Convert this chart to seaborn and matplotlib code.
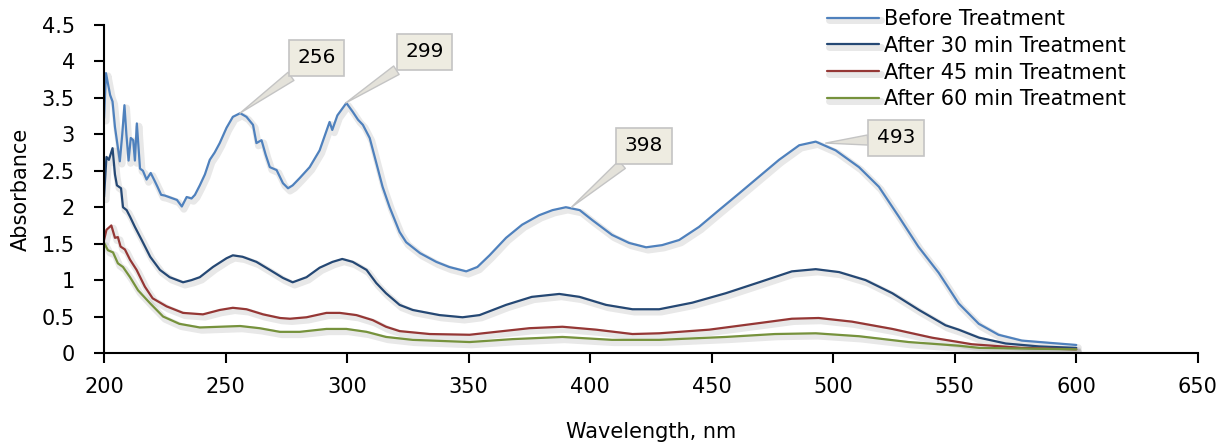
import numpy as np
import pandas as pd
import seaborn as sns
import matplotlib.pyplot as plt
import matplotlib.patheffects as pe
from matplotlib.ticker import FuncFormatter

# spectra (wavelength nm, absorbance)
wl_before = [200, 200.8, 202.5, 203.5, 204.5, 206.5, 207.5, 208.4, 209.2, 210.1, 211, 212, 212.7,
             213.5, 214.8, 216, 217.5, 219.2, 221, 222, 223.5, 225, 227.5, 230, 232, 234, 236,
             237.4, 239.4, 241.5, 243.5, 245.5, 247.6, 250.4, 253, 256, 258.6, 261.3, 262.7,
             264.8, 266.5, 268.2, 271, 273.6, 275.7, 277.6, 280.5, 284.6, 288.7, 292.8, 293.9,
             296, 299.7, 302.3, 304.5, 306.5, 309.3, 312, 314.6, 317.5, 321.6, 324.3, 330,
             336.7, 342, 349, 353.6, 358.6, 365.4, 372, 379, 384.5, 390, 395.7, 401, 409, 416,
             423, 429.6, 436.6, 444.8, 453, 461.3, 469.5, 477.7, 486, 492.8, 501, 510.6, 518.8,
             527, 535, 543.4, 551.6, 559.9, 568, 577.6, 588.7, 600]
abs_before = [3.22, 3.84, 3.54, 3.45, 3.10, 2.63, 3.00, 3.40, 3.00, 2.64, 2.95, 2.92, 2.64,
              3.15, 2.53, 2.50, 2.38, 2.47, 2.35, 2.28, 2.17, 2.16, 2.13, 2.10, 2.01, 2.14, 2.12,
              2.17, 2.30, 2.45, 2.65, 2.75, 2.88, 3.09, 3.24, 3.29, 3.24, 3.13, 2.88,
              2.92, 2.72, 2.55, 2.51, 2.33, 2.26, 2.30, 2.40, 2.55, 2.78, 3.17, 3.06,
              3.26, 3.43, 3.31, 3.20, 3.13, 2.95, 2.61, 2.28, 2.00, 1.66, 1.52, 1.37,
              1.25, 1.18, 1.12, 1.18, 1.34, 1.58, 1.76, 1.89, 1.96, 2.00, 1.96, 1.82, 1.62, 1.51,
              1.45, 1.48, 1.55, 1.73, 1.96, 2.19, 2.42, 2.65, 2.85, 2.90, 2.78, 2.55, 2.28,
              1.87, 1.46, 1.10, 0.68, 0.40, 0.25, 0.17, 0.14, 0.11]

wl_30 = [200, 201, 202, 203.5, 204.5, 205.3, 207, 207.8, 209.3, 210.7, 212.7, 215.5, 219, 223,
         227, 232.5, 236, 239.4, 244.8, 250.4, 253, 257, 262.7, 268.2, 273.6, 277.6, 283.3,
         288.7, 294, 298, 302.3, 308, 312, 316, 321.6, 327, 338, 347.5, 354.5, 365.4, 376,
         387.3, 395.6, 406.5, 417.4, 428.4, 442, 455.8, 469.5, 483, 492.8, 502.4, 513.3,
         524.3, 535.3, 546.2, 551.6, 560, 571, 584.6, 600]
abs_30 = [2.14, 2.69, 2.65, 2.81, 2.45, 2.30, 2.26, 2.00, 1.96, 1.87, 1.73, 1.55, 1.32, 1.14,
          1.04, 0.97, 1.00, 1.04, 1.18, 1.30, 1.34, 1.32, 1.25, 1.14, 1.03, 0.97, 1.04,
          1.17, 1.25, 1.29, 1.25, 1.14, 0.96, 0.82, 0.66, 0.59, 0.52, 0.49, 0.52, 0.66, 0.77,
          0.81, 0.77, 0.66, 0.60, 0.60, 0.69, 0.82, 0.97, 1.12, 1.15, 1.11, 1.00,
          0.82, 0.59, 0.38, 0.32, 0.21, 0.13, 0.09, 0.07]

wl_45 = [200, 201, 203, 204.5, 205.7, 206.8, 208.6, 210.7, 213.4, 216.8, 220, 225.7, 232.5,
         240.7, 247.6, 253, 258.6, 265.4, 272.4, 276.5, 283.3, 291.5, 297, 303.8, 310.6, 316,
         321.6, 334, 350.4, 361.3, 375, 388.6, 402.4, 417.4, 428.4, 449, 469.5, 483, 494,
         507.7, 524.3, 540.6, 551.6, 557, 577.6, 600]
abs_45 = [1.55, 1.69, 1.75, 1.58, 1.59, 1.46, 1.42, 1.28, 1.14, 0.91, 0.75, 0.64, 0.55,
          0.53, 0.59, 0.62, 0.60, 0.53, 0.48, 0.47, 0.49, 0.55, 0.55, 0.52, 0.45, 0.36,
          0.30, 0.26, 0.25, 0.29, 0.34, 0.36, 0.32, 0.26, 0.27, 0.32, 0.41, 0.47, 0.48,
          0.43, 0.33, 0.21, 0.15, 0.12, 0.07, 0.05]

wl_60 = [200, 201.6, 203.7, 205.7, 207.8, 210.7, 214, 219, 224.3, 231, 239.4, 247.6, 256,
         264, 272.3, 280.5, 291.5, 299.7, 308, 316, 327, 350.4, 368, 388.6, 409, 428.4,
         455.8, 476, 492.8, 510.6, 531, 551.6, 560, 600]
abs_60 = [1.51, 1.41, 1.38, 1.23, 1.18, 1.04, 0.86, 0.68, 0.50, 0.40, 0.35, 0.36, 0.37,
          0.34, 0.29, 0.29, 0.33, 0.33, 0.29, 0.22, 0.18, 0.15, 0.19, 0.22, 0.18, 0.18,
          0.22, 0.26, 0.27, 0.23, 0.15, 0.10, 0.07, 0.05]

series_names = ['Before Treatment', 'After 30 min Treatment',
                'After 45 min Treatment', 'After 60 min Treatment']
colors = ['#4f81bd', '#254874', '#953735', '#76923c']

# peak callouts: label, peak point, box centre
peak_labels = ['256', '299', '398', '493']
peak_x = [255.9, 299.4, 392.3, 496.9]
peak_y = [3.29, 3.43, 2.0, 2.88]
box_x = [287.5, 331.9, 422.2, 525.8]
box_y = [4.05, 4.13, 2.84, 2.95]

sns.set_style('ticks')
plt.rcParams['font.family'] = ['DejaVu Sans']
plt.rcParams['text.color'] = 'black'
plt.rcParams['axes.labelcolor'] = 'black'
plt.rcParams['xtick.color'] = 'black'
plt.rcParams['ytick.color'] = 'black'

fig = plt.figure(figsize=(12.21, 4.42), dpi=100)
ax = fig.add_axes([0.0852, 0.2014, 0.8958, 0.742])

all_x = [wl_before, wl_30, wl_45, wl_60]
all_y = [abs_before, abs_30, abs_45, abs_60]
shadow = [pe.SimpleLineShadow(offset=(1.5, -2), shadow_color='gray', alpha=0.18, linewidth=5),
          pe.Normal()]
for xs, ys, name, c in zip(all_x, all_y, series_names, colors):
    sns.lineplot(x=xs, y=ys, ax=ax, color=c, linewidth=1.6, label=name,
                 path_effects=shadow)

for lab, px, py, bx, by in zip(peak_labels, peak_x, peak_y, box_x, box_y):
    ax.annotate(lab, xy=(px, py), xytext=(bx, by), ha='center', va='center',
                fontsize=14.5,
                bbox=dict(boxstyle='square,pad=0.42', fc='#eeece1', ec='#c4c4c4', lw=1.2),
                arrowprops=dict(arrowstyle='wedge,tail_width=0.5', fc='#e4e2da',
                                ec='#c4c4c4', lw=1, shrinkA=0, shrinkB=0))

ax.set_xlim(200, 650)
ax.set_ylim(0, 4.5)
ax.set_xticks(np.arange(200, 651, 50))
ax.set_yticks(np.arange(0, 4.51, 0.5))
ax.yaxis.set_major_formatter(FuncFormatter(lambda v, p: f'{v:g}'))
ax.tick_params(axis='x', length=7, width=1.5, pad=10, labelsize=15)
ax.tick_params(axis='y', length=7, width=1.5, pad=14, labelsize=15)
sns.despine(ax=ax)
for s in ['left', 'bottom']:
    ax.spines[s].set_linewidth(1.5)
    ax.spines[s].set_color('black')

ax.set_xlabel('Wavelength, nm', fontsize=15, labelpad=18)
ax.set_ylabel('Absorbance', fontsize=15, labelpad=8)

ax.legend(loc='upper left', bbox_to_anchor=(0.677, 0.98), bbox_transform=fig.transFigure,
          frameon=False, fontsize=15, handlelength=2.5, handletextpad=0.25,
          labelspacing=0.33, borderpad=0, borderaxespad=0)

fig.savefig('out.png', dpi=100)
